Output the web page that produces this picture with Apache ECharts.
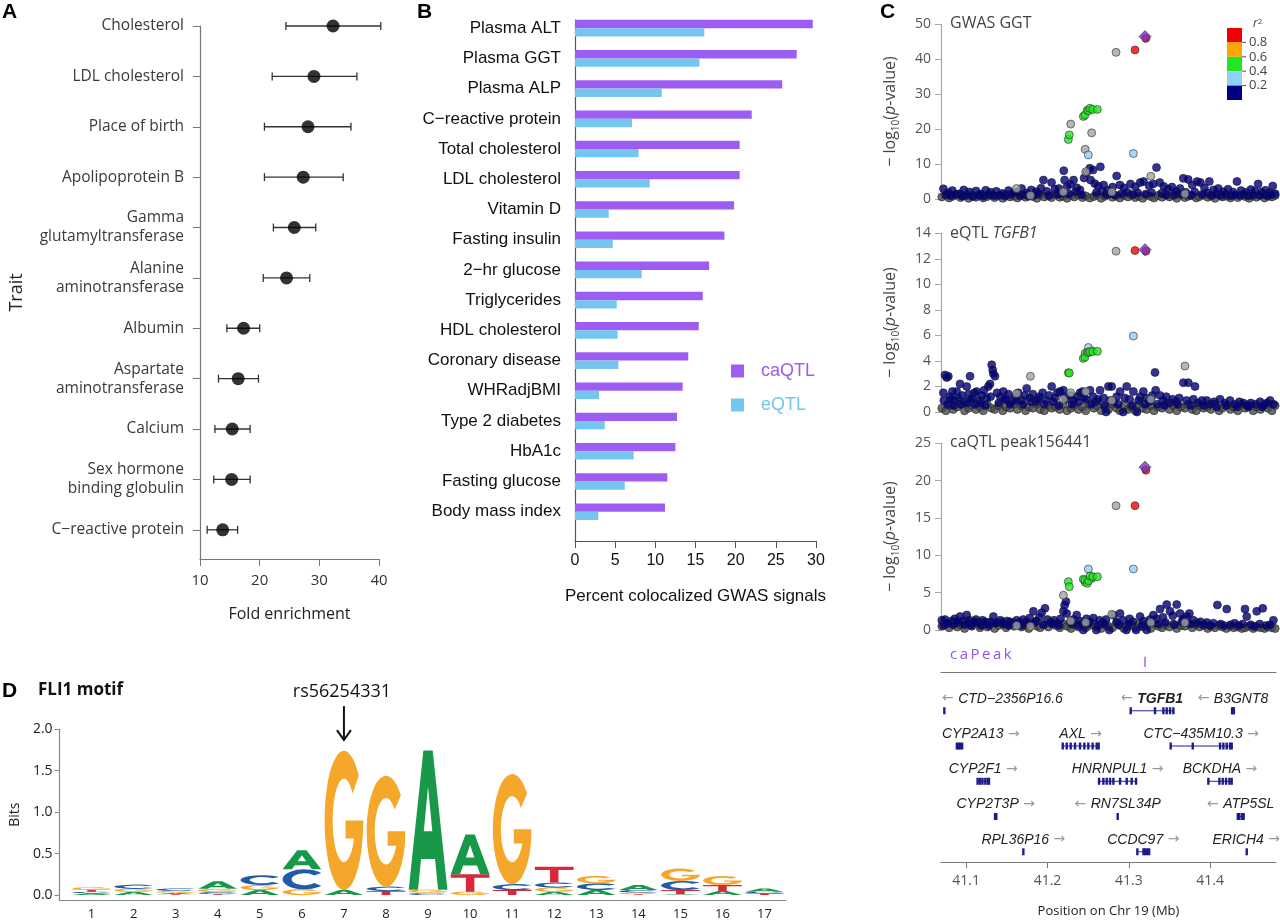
<!DOCTYPE html>
<html>
<head>
<meta charset="utf-8">
<title>Figure</title>
<script src="https://cdn.jsdelivr.net/npm/echarts@6.0.0/dist/echarts.min.js"></script>
<style>
html, body { margin: 0; padding: 0; background: #fff; }
#fig { width: 1280px; height: 922px; }
</style>
</head>
<body>
<div id="fig"></div>
<script>
// ---------- panel A : fold enrichment per trait
var traitNames = ['Cholesterol', 'LDL cholesterol', 'Place of birth', 'Apolipoprotein B',
    'Gamma\nglutamyltransferase', 'Alanine\naminotransferase', 'Albumin',
    'Aspartate\naminotransferase', 'Calcium', 'Sex hormone\nbinding globulin', 'C\u2212reactive protein'];
var foldMean = [32.3, 29.1, 28.1, 27.3, 25.8, 24.5, 17.3, 16.4, 15.4, 15.3, 13.8];
var foldLow = [24.4, 22.1, 20.8, 20.8, 22.3, 20.6, 14.5, 13.1, 12.5, 12.3, 11.2];
var foldHigh = [40.3, 36.3, 35.3, 34.0, 29.4, 28.4, 20.0, 19.8, 18.4, 18.4, 16.3];

// ---------- panel B : percent colocalized GWAS signals
var gwasTraits = ['Plasma ALT', 'Plasma GGT', 'Plasma ALP', 'C\u2212reactive protein', 'Total cholesterol',
    'LDL cholesterol', 'Vitamin D', 'Fasting insulin', '2\u2212hr glucose', 'Triglycerides', 'HDL cholesterol',
    'Coronary disease', 'WHRadjBMI', 'Type 2 diabetes', 'HbA1c', 'Fasting glucose', 'Body mass index'];
var caqtlPct = [29.6, 27.6, 25.8, 22.0, 20.5, 20.5, 19.8, 18.6, 16.7, 15.9, 15.4, 14.1, 13.4, 12.7, 12.5, 11.5, 11.2];
var eqtlPct = [16.1, 15.5, 10.8, 7.1, 7.9, 9.3, 4.2, 4.7, 8.3, 5.2, 5.3, 5.4, 3.0, 3.7, 7.3, 6.2, 2.9];

// ---------- panel C : locus plots (position in Mb, -log10 p)
var posTicks = [41.1, 41.2, 41.3, 41.4];
var bandPos = [41.070, 41.075, 41.079, 41.084, 41.089, 41.093, 41.098, 41.103, 41.107, 41.112,
    41.117, 41.121, 41.126, 41.131, 41.135, 41.140, 41.145, 41.149, 41.154, 41.159,
    41.163, 41.168, 41.173, 41.177, 41.182, 41.187, 41.191, 41.196, 41.201, 41.205,
    41.210, 41.215, 41.219, 41.224, 41.229, 41.233, 41.238, 41.243, 41.247, 41.252,
    41.257, 41.261, 41.266, 41.271, 41.275, 41.280, 41.285, 41.289, 41.294, 41.299,
    41.303, 41.308, 41.313, 41.317, 41.322, 41.327, 41.331, 41.336, 41.341, 41.345,
    41.350, 41.355, 41.359, 41.364, 41.369, 41.373, 41.378, 41.383, 41.387, 41.392,
    41.397, 41.401, 41.406, 41.411, 41.415, 41.420, 41.425, 41.429, 41.434, 41.439,
    41.443, 41.448, 41.453, 41.457, 41.462, 41.467, 41.471, 41.476, 41.480];
var gwasBand = [0.6, 1.1, 0.3, 0.8, 1.3, 0.4, 0.9, 0.2, 1.0, 0.5,
    1.2, 0.3, 0.7, 1.1, 0.4, 0.9, 0.2, 1.3, 0.6, 0.8,
    0.3, 1.0, 0.5, 1.2, 0.7, 0.2, 1.1, 0.6, 0.9, 0.4,
    1.3, 0.5, 0.8, 0.2, 1.0, 0.6, 1.2, 0.4, 0.9, 0.3,
    0.7, 1.1, 0.2, 0.8, 1.3, 0.5, 0.9, 0.3, 1.0, 0.6,
    1.2, 0.4, 0.8, 0.2, 1.1, 0.7, 0.3, 1.0, 0.5, 1.3,
    0.6, 0.9, 0.2, 1.2, 0.4, 0.8, 1.0, 0.3, 0.7, 1.1,
    0.5, 0.9, 0.2, 1.2, 0.6, 0.8, 0.3, 1.0, 0.4, 1.1,
    0.7, 0.2, 0.9, 0.5, 1.2, 0.3, 0.8, 0.6, 1.0];
var eqtlBand = [0.3, 0.1, 0.5, 0.2, 0.4, 0.6, 0.1, 0.3, 0.5, 0.2,
    0.4, 0.1, 0.6, 0.3, 0.2, 0.5, 0.1, 0.4, 0.3, 0.6,
    0.2, 0.5, 0.1, 0.4, 0.3, 0.6, 0.2, 0.1, 0.5, 0.3,
    0.4, 0.2, 0.6, 0.1, 0.3, 0.5, 0.2, 0.4, 0.1, 0.6,
    0.3, 0.5, 0.1, 0.4, 0.2, 0.6, 0.3, 0.1, 0.5, 0.2,
    0.4, 0.1, 0.6, 0.3, 0.2, 0.5, 0.1, 0.4, 0.3, 0.6,
    0.2, 0.5, 0.1, 0.4, 0.3, 0.6, 0.2, 0.1, 0.5, 0.3,
    0.4, 0.2, 0.6, 0.1, 0.3, 0.5, 0.2, 0.4, 0.1, 0.6,
    0.3, 0.5, 0.1, 0.4, 0.2, 0.6, 0.3, 0.1, 0.5];
var caqtlBand = [0.5, 0.8, 0.3, 0.9, 0.4, 0.7, 0.2, 0.8, 0.5, 1.0,
    0.3, 0.7, 0.4, 0.9, 0.2, 0.6, 0.8, 0.3, 0.7, 0.5,
    0.9, 0.4, 0.6, 0.2, 0.8, 0.5, 0.3, 0.7, 0.4, 0.9,
    0.6, 0.3, 0.8, 0.5, 0.2, 0.7, 0.4, 0.9, 0.3, 0.6,
    0.8, 0.4, 0.2, 0.7, 0.5, 0.3, 0.9, 0.6, 0.2, 0.5,
    0.7, 0.3, 0.8, 0.4, 0.6, 0.2, 0.9, 0.5, 0.3, 0.7,
    0.4, 0.8, 0.2, 0.6, 0.5, 0.9, 0.3, 0.7, 0.4, 0.6,
    0.2, 0.5, 0.3, 0.6, 0.4, 0.2, 0.5, 0.3, 0.4, 0.2,
    0.3, 0.5, 0.2, 0.4, 0.3, 0.2, 0.4, 0.3, 0.2];
var gwasNavy = [[41.072, 2.9], [41.075, 1.2], [41.078, 1.8], [41.081, 0.9], [41.083, 2.4], [41.087, 1.3], [41.092, 1.5],
    [41.095, 0.8], [41.097, 2.6], [41.101, 1.1], [41.104, 2.0], [41.108, 0.7], [41.112, 2.3], [41.115, 1.0], [41.118, 1.4],
    [41.121, 0.8], [41.124, 2.5], [41.127, 1.2], [41.130, 1.9], [41.134, 0.9], [41.137, 2.2], [41.141, 1.1], [41.144, 1.6],
    [41.148, 0.8], [41.152, 2.4], [41.155, 1.3], [41.158, 1.8], [41.163, 2.0], [41.166, 0.9], [41.168, 3.0], [41.171, 1.2],
    [41.174, 1.7], [41.177, 0.8], [41.180, 2.6], [41.183, 1.1], [41.186, 2.1], [41.189, 1.5], [41.192, 3.1], [41.195, 5.4],
    [41.199, 2.2], [41.202, 1.0], [41.205, 4.7], [41.209, 2.8], [41.212, 1.3], [41.214, 3.0], [41.218, 1.6], [41.220, 8.1],
    [41.221, 5.4], [41.224, 3.6], [41.226, 1.4], [41.228, 4.2], [41.232, 5.4], [41.234, 2.0], [41.236, 3.2], [41.240, 2.6],
    [41.242, 1.2], [41.245, 6.0], [41.248, 7.5], [41.252, 8.8], [41.253, 5.4], [41.256, 8.3], [41.258, 4.4], [41.260, 1.8],
    [41.262, 3.7], [41.265, 9.2], [41.267, 2.2], [41.269, 4.0], [41.272, 1.3], [41.274, 2.5], [41.277, 1.6], [41.280, 3.4],
    [41.283, 1.1], [41.285, 6.6], [41.289, 4.0], [41.291, 1.5], [41.294, 3.2], [41.298, 1.9], [41.302, 4.3], [41.305, 1.2],
    [41.308, 3.5], [41.311, 1.7], [41.314, 4.7], [41.318, 5.0], [41.321, 1.4], [41.325, 3.8], [41.328, 1.8], [41.330, 4.3],
    [41.334, 9.0], [41.338, 4.7], [41.340, 1.6], [41.343, 3.6], [41.346, 1.1], [41.348, 2.8], [41.353, 3.4], [41.356, 1.2],
    [41.358, 2.2], [41.363, 3.0], [41.365, 1.4], [41.367, 5.9], [41.370, 1.9], [41.373, 5.6], [41.376, 1.1], [41.378, 4.0],
    [41.381, 2.0], [41.384, 5.0], [41.388, 4.7], [41.390, 1.3], [41.393, 3.2], [41.396, 1.7], [41.399, 5.0], [41.402, 1.0],
    [41.404, 2.6], [41.407, 1.4], [41.410, 3.0], [41.413, 1.0], [41.416, 2.1], [41.419, 1.3], [41.422, 2.8], [41.425, 0.9],
    [41.428, 2.0], [41.430, 1.2], [41.433, 5.0], [41.436, 1.0], [41.438, 2.4], [41.441, 1.3], [41.444, 1.9], [41.447, 0.9],
    [41.450, 2.7], [41.453, 1.2], [41.455, 2.2], [41.459, 4.3], [41.461, 1.0], [41.463, 2.0], [41.466, 1.3], [41.468, 2.5],
    [41.471, 0.9], [41.473, 1.8], [41.475, 1.2], [41.477, 3.7], [41.480, 1.5]];
var eqtlNavy = [[41.0719, 1.5], [41.0739, 2.9], [41.0760, 2.7], [41.0780, 2.8], [41.0800, 1.2], [41.0830, 1.6], [41.0860, 0.9],
    [41.0883, 1.6], [41.0924, 2.2], [41.0950, 1.3], [41.0980, 0.8], [41.1006, 2.0], [41.1030, 1.4], [41.1047, 2.8],
    [41.1080, 1.1], [41.1100, 1.5], [41.1129, 1.6], [41.1160, 0.9], [41.1190, 1.3], [41.1220, 1.7], [41.1250, 1.1],
    [41.1272, 2.0], [41.1293, 2.2], [41.1313, 3.7], [41.1326, 3.3], [41.1334, 3.0], [41.1354, 2.8], [41.1380, 1.5],
    [41.1420, 1.2], [41.1457, 1.6], [41.1490, 1.0], [41.1520, 1.4], [41.1560, 0.8], [41.1600, 1.2], [41.1640, 1.5],
    [41.1680, 0.9], [41.1720, 1.3], [41.1744, 1.85], [41.1780, 1.1], [41.1820, 1.4], [41.1860, 0.8], [41.1900, 1.2],
    [41.1940, 1.5], [41.1980, 0.9], [41.2020, 1.3], [41.2051, 2.0], [41.2090, 1.1], [41.2120, 1.5], [41.2154, 1.6],
    [41.2195, 1.7], [41.2230, 1.0], [41.2280, 1.3], [41.2320, 0.9], [41.2360, 1.2], [41.2400, 1.5], [41.2432, 1.6],
    [41.2470, 1.0], [41.2523, 1.7], [41.2560, 1.2], [41.2600, 0.8], [41.2646, 1.7], [41.2690, 1.1], [41.2720, 0.0],
    [41.2748, 2.0], [41.2789, 2.0], [41.2810, 0.8], [41.2850, 1.2], [41.2892, 1.6], [41.2930, 0.0], [41.2974, 2.0],
    [41.3010, 1.0], [41.3056, 1.6], [41.3100, 0.0], [41.3140, 1.2], [41.3179, 1.6], [41.3210, 1.1], [41.3250, 0.8],
    [41.3290, 1.3], [41.3322, 3.1], [41.3330, 1.7], [41.3384, 1.3], [41.3420, 0.9], [41.3460, 1.2], [41.3500, 0.7],
    [41.3540, 1.0], [41.3580, 0.8], [41.3620, 1.1], [41.3671, 2.3], [41.3710, 0.9], [41.3732, 2.3], [41.3794, 1.0],
    [41.3814, 2.0], [41.3850, 0.7], [41.3900, 0.9], [41.3958, 0.9], [41.4000, 0.6], [41.4050, 0.8], [41.4122, 1.0],
    [41.4180, 0.7], [41.4245, 0.9], [41.4300, 0.6], [41.4360, 0.8], [41.4409, 0.7], [41.4450, 0.5], [41.4500, 0.7],
    [41.4560, 0.6], [41.4614, 0.8], [41.4660, 0.5], [41.4700, 0.7], [41.4737, 0.9], [41.4780, 0.6],
    [41.0725, 0.9], [41.0770, 0.6], [41.0815, 1.0], [41.0845, 0.5], [41.0900, 1.1], [41.0940, 0.6], [41.1015, 0.7],
    [41.1060, 1.0], [41.1110, 0.6], [41.1175, 0.7], [41.1235, 0.5], [41.1300, 1.2], [41.1400, 0.7], [41.1470, 1.0],
    [41.1540, 0.6], [41.1620, 0.9], [41.1700, 0.6], [41.1800, 0.8], [41.1880, 1.0], [41.1960, 0.6], [41.2070, 0.8],
    [41.2140, 0.5], [41.2210, 1.2], [41.2300, 0.6], [41.2380, 0.8], [41.2450, 1.1], [41.2540, 0.6], [41.2620, 1.0],
    [41.2700, 0.5], [41.2770, 0.9], [41.2870, 0.6], [41.2950, 1.1], [41.3040, 0.5], [41.3120, 0.9], [41.3200, 0.6],
    [41.3270, 1.0], [41.3350, 0.6], [41.3440, 0.5], [41.3600, 0.6], [41.3760, 0.5], [41.3920, 0.5], [41.4080, 0.4],
    [41.4200, 0.5], [41.4330, 0.4], [41.4470, 0.4], [41.4640, 0.4]];
var caqtlNavy = [[41.0700, 1.3], [41.0739, 1.4], [41.0780, 0.9], [41.0820, 1.2], [41.0860, 1.5], [41.0900, 1.0],
    [41.0924, 1.8], [41.0960, 1.2], [41.1006, 2.0], [41.1040, 1.3], [41.1080, 0.9], [41.1120, 1.4], [41.1160, 1.0],
    [41.1200, 1.3], [41.1250, 0.8], [41.1300, 1.1], [41.1334, 1.8], [41.1380, 1.0], [41.1420, 1.3], [41.1460, 0.8],
    [41.1500, 1.2], [41.1539, 1.1], [41.1580, 0.9], [41.1620, 1.3], [41.1660, 1.0], [41.1700, 1.4], [41.1740, 1.1],
    [41.1780, 1.6], [41.1826, 2.5], [41.1860, 1.2], [41.1900, 1.7], [41.1928, 2.3], [41.1969, 2.9], [41.2000, 1.4],
    [41.2040, 1.0], [41.2080, 1.3], [41.2120, 0.9], [41.2160, 1.5], [41.2195, 2.5], [41.2210, 3.3], [41.2227, 3.8],
    [41.2236, 2.2], [41.2280, 1.1], [41.2320, 1.4], [41.2359, 2.0], [41.2400, 1.2], [41.2440, 0.0], [41.2480, 1.5],
    [41.2520, 1.1], [41.2564, 1.6], [41.2600, 0.0], [41.2640, 1.3], [41.2680, 1.0], [41.2720, 1.4], [41.2760, 0.0],
    [41.2810, 2.0], [41.2850, 1.1], [41.2892, 2.2], [41.2930, 1.3], [41.2970, 0.0], [41.3010, 1.5], [41.3050, 1.1],
    [41.3090, 0.0], [41.3138, 1.8], [41.3180, 1.2], [41.3220, 0.0], [41.3260, 1.4], [41.3302, 2.0], [41.3340, 1.5],
    [41.3384, 2.8], [41.3420, 1.7], [41.3466, 3.4], [41.3507, 2.5], [41.3540, 1.9], [41.3589, 3.4], [41.3630, 2.2],
    [41.3670, 1.5], [41.3710, 1.8], [41.3745, 2.2], [41.3794, 1.3], [41.3840, 0.9], [41.3880, 1.1], [41.3920, 0.7],
    [41.3960, 1.0], [41.4000, 0.6], [41.4040, 0.9], [41.4089, 3.35], [41.4130, 0.8], [41.4170, 0.6], [41.4204, 2.8],
    [41.4250, 0.7], [41.4300, 0.9], [41.4350, 0.6], [41.4400, 0.8], [41.4429, 2.8], [41.4450, 1.8], [41.4500, 0.7],
    [41.4540, 0.5], [41.4573, 2.5], [41.4610, 0.8], [41.4647, 2.9], [41.4690, 0.6], [41.4740, 0.7], [41.4778, 1.3],
    [41.0720, 0.6], [41.0760, 0.9], [41.0840, 0.7], [41.0880, 1.1], [41.0980, 0.7], [41.1020, 1.0], [41.1060, 0.6],
    [41.1100, 1.1], [41.1180, 0.6], [41.1230, 1.1], [41.1280, 0.6], [41.1360, 0.9], [41.1440, 1.0], [41.1520, 0.6],
    [41.1600, 0.9], [41.1680, 0.6], [41.1760, 0.8], [41.1840, 1.0], [41.1950, 0.7], [41.2060, 0.8], [41.2140, 0.6],
    [41.2300, 0.8], [41.2380, 0.6], [41.2500, 0.8], [41.2620, 0.6], [41.2700, 0.8], [41.2880, 0.7], [41.3000, 0.8],
    [41.3160, 0.6], [41.3240, 0.9], [41.3360, 0.8], [41.3450, 1.0], [41.3560, 0.7], [41.3650, 1.1], [41.3760, 0.8]];

// SNPs with LD info: k = no r2, b = 0.2-0.4, g = 0.4-0.6, r = >0.8, d = lead SNP
var ldPos = [41.2843, 41.2285, 41.2195, 41.2543, 41.2463, 41.3270, 41.3690, 41.1790, 41.1620, 41.2470, 41.2790,
    41.2502, 41.3056,
    41.2256, 41.2268, 41.2440, 41.2460, 41.2490, 41.2505, 41.2523, 41.2556, 41.2613,
    41.3076, 41.3210, 41.3199];
var ldClass = ['k', 'k', 'k', 'k', 'k', 'k', 'k', 'k', 'k', 'k', 'k',
    'b', 'b',
    'g', 'g', 'g', 'g', 'g', 'g', 'g', 'g', 'g',
    'r', 'r', 'd'];
var ldGwas = [41.9, 21.4, 2.0, 18.9, 14.2, 6.5, 1.5, 1.0, 3.0, 7.8, 2.0,
    12.6, 13.0,
    17.0, 18.3, 23.6, 24.0, 25.4, 25.2, 25.9, 25.6, 25.6,
    42.6, 45.9, 46.4];
var ldEqtl = [12.6, 1.5, 1.0, 4.8, 4.6, 1.0, 3.6, 2.8, 1.45, 1.6, 0.9,
    5.05, 5.95,
    3.08, 3.05, 4.2, 4.3, 4.7, 4.65, 4.73, 4.73, 4.75,
    12.65, 12.6, 12.72];
var ldCaqtl = [16.65, 1.2, 4.65, 6.9, 6.4, 1.0, 1.0, 0.5, 0.6, 1.0, 2.1,
    8.17, 8.17,
    6.47, 5.8, 6.79, 6.7, 6.25, 6.6, 7.23, 7.14, 7.14,
    16.65, 21.4, 21.8];
var r2Labels = ['0.8', '0.6', '0.4', '0.2'];
var peakPos = [41.3199];

var geneNames = ['CTD\u22122356P16.6', 'TGFB1', 'B3GNT8', 'CYP2A13', 'AXL', 'CTC\u2212435M10.3', 'CYP2F1', 'HNRNPUL1',
    'BCKDHA', 'CYP2T3P', 'RN7SL34P', 'ATP5SL', 'RPL36P16', 'CCDC97', 'ERICH4'];
var geneRow = [1, 1, 1, 2, 2, 2, 3, 3, 3, 4, 4, 4, 5, 5, 5];
var geneStrand = ['-', '-', '-', '+', '+', '+', '+', '+', '+', '+', '-', '-', '+', '+', '+'];
var geneExons = [
    [41.0731],
    [41.3023, 41.3322, 41.3425, 41.3466, 41.3507, 41.3548],
    [41.4270, 41.4280, 41.4292],
    [41.0885, 41.0905, 41.0925, 41.0950],
    [41.2187, 41.2236, 41.2285, 41.2338, 41.2400, 41.2453, 41.2502, 41.2555, 41.2605, 41.2629],
    [41.3515, 41.3786, 41.4122, 41.4163, 41.4204, 41.4245, 41.4265],
    [41.1140, 41.1170, 41.1200, 41.1235, 41.1265, 41.1280],
    [41.2634, 41.2687, 41.2728, 41.2769, 41.2810, 41.2892, 41.2974, 41.3035, 41.3089],
    [41.3978, 41.4114, 41.4155, 41.4196, 41.4237, 41.4265],
    [41.1355, 41.1370],
    [41.2863],
    [41.4340, 41.4360, 41.4395, 41.4412],
    [41.1703],
    [41.3105, 41.3180, 41.3200, 41.3225, 41.3250],
    [41.4450]
];

// ---------- panel D : FLI1 motif logo (letters bottom -> top, heights in bits)
var logoPositions = [1, 2, 3, 4, 5, 6, 7, 8, 9, 10, 11, 12, 13, 14, 15, 16, 17];
var logoLetters = ['ACTG', 'AGC', 'TAGC', 'TCGA', 'AGC', 'GCA', 'AG', 'TCG', 'CGA', 'GTA', 'TCG', 'AGCT', 'ACG',
    'TGCA', 'ATCG', 'ATG', 'TCA'];
var logoBits = [
    [0.02, 0.02, 0.025, 0.03], [0.04, 0.035, 0.05], [0.01, 0.015, 0.025, 0.03], [0.01, 0.025, 0.04, 0.09],
    [0.06, 0.06, 0.12], [0.07, 0.24, 0.23], [0.06, 1.68], [0.05, 0.05, 1.34], [0.025, 0.04, 1.68],
    [0.04, 0.21, 0.48], [0.06, 0.07, 1.33], [0.04, 0.05, 0.06, 0.19], [0.06, 0.08, 0.09],
    [0.01, 0.02, 0.03, 0.06], [0.01, 0.05, 0.11, 0.15], [0.05, 0.07, 0.11], [0.02, 0.02, 0.04]
];
var bitTicks = [0, 0.5, 1, 1.5, 2];
var snpPosition = 7;
var snpLabel = 'rs56254331';

// ---------------------------------------------------------------
var FA = 'Open Sans';
var FB = 'Liberation Sans';
var PURPLE = '#9d5cf2';
var SKY = '#74c6f1';
var ldColor = {k: '#a3a3a3', b: '#8fd0f7', g: '#22e622', r: '#f20000', d: '#7d2fc2'};
var letterColor = {A: '#18994a', C: '#1f5ba8', G: '#f5a72b', T: '#d8283a'};
var letterPath = {
    A: 'M0,100 L38,0 L62,0 L100,100 L76,100 L68,78 L32,78 L24,100 Z M39,58 L61,58 L50,26 Z',
    C: 'M88.8,17.9 A48,50 0 1 0 88.8,82.1 L73.4,69.3 A28,30 0 1 1 73.4,30.7 Z',
    G: 'M88.8,17.9 A48,50 0 1 0 100,50 L56,50 L56,63 L77.2,63 A28,30 0 1 1 73.4,30.7 Z',
    T: 'M0,0 L100,0 L100,20 L61,20 L61,100 L39,100 L39,20 L0,20 Z'
};
var LETTERS = 'ACGT';

var measureCtx = document.createElement('canvas').getContext('2d');
function textWidth(str, font) {
    measureCtx.font = font;
    return measureCtx.measureText(str).width;
}

var series = [];

// A: error bars + points
series.push({
    type: 'custom', xAxisIndex: 0, yAxisIndex: 0, silent: true,
    data: traitNames.map(function (n, i) { return [foldLow[i], foldHigh[i], i]; }),
    encode: {x: [0, 1], y: 2},
    renderItem: function (params, api) {
        var lo = api.coord([api.value(0), api.value(2)]);
        var hi = api.coord([api.value(1), api.value(2)]);
        var st = {stroke: '#333', lineWidth: 1.3};
        return {type: 'group', children: [
            {type: 'line', shape: {x1: lo[0], y1: lo[1], x2: hi[0], y2: hi[1]}, style: st},
            {type: 'line', shape: {x1: lo[0], y1: lo[1] - 4, x2: lo[0], y2: lo[1] + 4}, style: st},
            {type: 'line', shape: {x1: hi[0], y1: hi[1] - 4, x2: hi[0], y2: hi[1] + 4}, style: st}
        ]};
    }
});
series.push({
    type: 'scatter', xAxisIndex: 0, yAxisIndex: 0, silent: true, symbolSize: 13,
    itemStyle: {color: '#000'},
    data: foldMean.map(function (v, i) { return [v, i]; })
});

// B: paired horizontal bars
function barSeries(name, vals, color, side) {
    return {
        type: 'custom', name: name, xAxisIndex: 1, yAxisIndex: 1, silent: true,
        itemStyle: {color: color},
        data: vals.map(function (v, i) { return [v, i]; }),
        encode: {x: 0, y: 1},
        renderItem: function (params, api) {
            var p0 = api.coord([0, api.value(1)]);
            var p1 = api.coord([api.value(0), api.value(1)]);
            var bh = api.size([0, 1])[1] * 0.275;
            var y = side < 0 ? p0[1] - bh : p0[1];
            return {type: 'rect', shape: {x: p0[0], y: y, width: p1[0] - p0[0], height: bh}, style: {fill: color}};
        }
    };
}
series.push(barSeries('caQTL', caqtlPct, PURPLE, -1));
series.push(barSeries('eQTL', eqtlPct, SKY, 1));

// C: three locus panels
var panels = [
    {band: gwasBand, navy: gwasNavy, ld: ldGwas},
    {band: eqtlBand, navy: eqtlNavy, ld: ldEqtl},
    {band: caqtlBand, navy: caqtlNavy, ld: ldCaqtl}
];
panels.forEach(function (p, k) {
    var gi = k + 2;
    series.push({
        type: 'scatter', xAxisIndex: gi, yAxisIndex: gi, clip: false, silent: true, symbolSize: 8,
        itemStyle: {color: '#4a4a4a', borderColor: '#222', borderWidth: 0.8},
        data: bandPos.map(function (x, j) { return [x, p.band[j]]; })
    });
    series.push({
        type: 'scatter', xAxisIndex: gi, yAxisIndex: gi, clip: false, silent: true, symbolSize: 8,
        itemStyle: {color: '#00007d', borderColor: '#1a1a30', borderWidth: 0.8},
        data: p.navy
    });
    series.push({
        type: 'scatter', xAxisIndex: gi, yAxisIndex: gi, clip: false, silent: true,
        itemStyle: {borderColor: '#333', borderWidth: 0.8},
        data: ldPos.map(function (x, j) {
            var lead = ldClass[j] === 'd';
            return {value: [x, p.ld[j]], symbol: lead ? 'diamond' : 'circle', symbolSize: lead ? 12 : 8,
                itemStyle: {color: ldColor[ldClass[j]]}};
        })
    });
});

// C: gene track
series.push({
    type: 'custom', xAxisIndex: 5, yAxisIndex: 5, silent: true,
    data: geneNames.map(function (n, i) {
        var ex = geneExons[i];
        return [ex[0], ex[ex.length - 1], geneRow[i], i];
    }),
    encode: {x: [0, 1], y: 2},
    renderItem: function (params, api) {
        var i = api.value(3);
        var ex = geneExons[i];
        var a = api.coord([api.value(0), api.value(2)]);
        var b = api.coord([api.value(1), api.value(2)]);
        var left = api.coord([41.069, 0])[0];
        var y = a[1];
        var kids = [];
        if (b[0] - a[0] > 1) {
            kids.push({type: 'line', shape: {x1: a[0], y1: y, x2: b[0], y2: y}, style: {stroke: '#23238f', lineWidth: 1}});
        }
        ex.forEach(function (e) {
            var c = api.coord([e, api.value(2)]);
            kids.push({type: 'rect', shape: {x: c[0] - 1.2, y: y - 3.5, width: 2.4, height: 7}, style: {fill: '#1b1b8a'}});
        });
        var name = geneNames[i];
        var bold = name === 'TGFB1';
        var minus = geneStrand[i] === '-';
        var nameFont = (bold ? 'italic bold ' : 'italic ') + '14px "' + FB + '"';
        var w = textWidth(name, nameFont) + textWidth(' \u2192', '14px "DejaVu Sans"');
        var cx = (a[0] + b[0]) / 2;
        cx = Math.max(cx, left + w / 2 + 1);
        cx = Math.min(cx, 1280 - w / 2);
        var txt = minus ? '{a|\u2190 }{n|' + name + '}' : '{n|' + name + '}{a| \u2192}';
        kids.push({type: 'text', x: cx, y: y - 12, style: {
            text: txt, align: 'center', verticalAlign: 'middle',
            rich: {
                a: {fill: '#9a9a9a', fontSize: 14, fontFamily: 'DejaVu Sans'},
                n: {fill: '#222', fontSize: 14, fontFamily: FB, fontStyle: 'italic', fontWeight: bold ? 'bold' : 'normal'}
            }
        }});
        return {type: 'group', children: kids};
    }
});
series.push({
    type: 'custom', xAxisIndex: 5, yAxisIndex: 5, silent: true,
    data: peakPos.map(function (p) { return [p, 0]; }),
    encode: {x: 0, y: 1},
    renderItem: function (params, api) {
        var t = api.coord([api.value(0), -0.53]);
        var b = api.coord([api.value(0), -0.24]);
        return {type: 'line', shape: {x1: t[0], y1: t[1], x2: b[0], y2: b[1]}, style: {stroke: '#9b4fe6', lineWidth: 1.3}};
    }
});

// D: sequence logo
var logoData = [];
logoPositions.forEach(function (p, k) {
    var base = 0;
    logoBits[k].forEach(function (h, j) {
        logoData.push([p, base, base + h, LETTERS.indexOf(logoLetters[k][j])]);
        base += h;
    });
});
series.push({
    type: 'custom', xAxisIndex: 7, yAxisIndex: 6, silent: true,
    data: logoData,
    encode: {x: 0, y: [1, 2]},
    renderItem: function (params, api) {
        var x = api.value(0);
        var tl = api.coord([x - 0.46, api.value(2)]);
        var br = api.coord([x + 0.46, api.value(1)]);
        var L = LETTERS.charAt(api.value(3));
        return {type: 'path', shape: {pathData: letterPath[L], x: tl[0], y: tl[1], width: br[0] - tl[0],
            height: Math.max(br[1] - tl[1], 0.5), layout: 'cover'}, style: {fill: letterColor[L]}};
    }
});
series.push({
    type: 'custom', xAxisIndex: 7, yAxisIndex: 6, silent: true,
    data: [[snpPosition, 2.0]],
    encode: {x: 0, y: 1},
    renderItem: function (params, api) {
        var x = api.value(0);
        var t = api.coord([x, 2.28]);
        var b = api.coord([x, 1.87]);
        var lab = api.coord([x, 2.45]);
        return {type: 'group', children: [
            {type: 'line', shape: {x1: t[0], y1: t[1], x2: b[0], y2: b[1]}, style: {stroke: '#111', lineWidth: 2}},
            {type: 'polyline', shape: {points: [[b[0] - 7, b[1] - 10], [b[0], b[1]], [b[0] + 7, b[1] - 10]]},
                style: {stroke: '#111', lineWidth: 2, fill: null}},
            {type: 'text', x: lab[0] - 2, y: lab[1], style: {text: snpLabel, align: 'center', verticalAlign: 'middle',
                fontSize: 18, fontFamily: FA, fill: '#111'}}
        ]};
    }
});

// ---------------------------------------------------------------
function locusX(gi) {
    return {gridIndex: gi, type: 'value', min: 41.069, max: 41.481, show: false};
}
function locusY(gi, max, interval) {
    return {
        gridIndex: gi, type: 'value', min: 0, max: max, interval: interval,
        axisLine: {show: true, onZero: false, lineStyle: {color: '#a8a8a8', width: 1.2}},
        axisTick: {show: true, length: 6, lineStyle: {color: '#a8a8a8'}},
        axisLabel: {margin: 10, fontFamily: FA, fontSize: 14, color: '#555'},
        splitLine: {show: false},
        name: '\u2212 log{s|10}(' + '{i|p}-value)', nameLocation: 'middle', nameRotate: 90, nameGap: 40,
        nameTextStyle: {fontFamily: FA, fontSize: 16, color: '#444', lineHeight: 22,
            rich: {s: {fontSize: 10, fontFamily: FA, color: '#444', lineHeight: 12, verticalAlign: 'bottom'},
                i: {fontSize: 16, fontFamily: FA, color: '#444', fontStyle: 'italic', lineHeight: 22}}}
    };
}

var graphic = [
    {type: 'text', left: 2, top: 2, style: {text: 'A', font: 'bold 21px "' + FB + '"', fill: '#000'}},
    {type: 'text', left: 417, top: 2, style: {text: 'B', font: 'bold 21px "' + FB + '"', fill: '#000'}},
    {type: 'text', left: 880, top: 2, style: {text: 'C', font: 'bold 21px "' + FB + '"', fill: '#000'}},
    {type: 'text', left: 2, top: 681, style: {text: 'D', font: 'bold 21px "' + FB + '"', fill: '#000'}},
    {type: 'text', left: 950, top: 15, style: {text: 'GWAS GGT', font: '16px "' + FA + '"', fill: '#444'}},
    {type: 'text', left: 950, top: 225, style: {text: 'eQTL {i|TGFB1}', font: '16px "' + FA + '"', fill: '#444',
        rich: {i: {fontStyle: 'italic', fontSize: 16, fontFamily: FA, fill: '#444'}}}},
    {type: 'text', left: 950, top: 434, style: {text: 'caQTL peak156441', font: '16px "' + FA + '"', fill: '#444'}},
    {type: 'text', left: 950, top: 647, style: {text: 'c\u2009a\u2009P\u2009e\u2009a\u2009k', font: '15px "' + FA + '"', fill: '#9b4fe6'}},
    {type: 'text', left: 38, top: 682, style: {text: 'FLI1 motif', font: 'bold 17px "' + FA + '"', fill: '#111'}}
];
// r2 colour key
var keyColors = [ldColor.r, '#ffa500', ldColor.g, ldColor.b, '#000080'];
keyColors.forEach(function (c, i) {
    graphic.push({type: 'rect', shape: {x: 1227, y: 28 + i * 14.4, width: 15, height: 14.4}, style: {fill: c}});
});
r2Labels.forEach(function (t, i) {
    var y = 28 + (i + 1) * 14.4;
    graphic.push({type: 'line', shape: {x1: 1242, y1: y, x2: 1246, y2: y}, style: {stroke: '#555', lineWidth: 1}});
    graphic.push({type: 'text', x: 1249, y: y, style: {text: t, font: '13px "' + FA + '"', fill: '#444', verticalAlign: 'middle'}});
});
graphic.push({type: 'text', x: 1253, y: 24, style: {text: '{i|r}{s|2}', verticalAlign: 'middle',
    rich: {i: {fontStyle: 'italic', fontSize: 12, fontFamily: FA, fill: '#444'},
        s: {fontSize: 8, fontFamily: FA, fill: '#444', verticalAlign: 'top', lineHeight: 8}}}});

var option = {
    animation: false,
    backgroundColor: '#fff',
    grid: [
        {left: 200, top: 26, width: 179, height: 533},
        {left: 575, top: 20, width: 241, height: 521},
        {left: 941, top: 24, width: 335, height: 175},
        {left: 941, top: 233.3, width: 335, height: 178.7},
        {left: 941, top: 443.3, width: 335, height: 186.7},
        {left: 941, top: 672, width: 335, height: 190},
        {left: 53, top: 729.3, width: 733, height: 170.7}
    ],
    legend: {
        data: [{name: 'caQTL', textStyle: {color: PURPLE}}, {name: 'eQTL', textStyle: {color: SKY}}],
        orient: 'vertical', left: 731, top: 362, padding: 0, icon: 'rect',
        itemWidth: 13, itemHeight: 13, itemGap: 16, selectedMode: false,
        textStyle: {fontFamily: FB, fontSize: 18, padding: [0, 0, 0, 12]}
    },
    xAxis: [
        {gridIndex: 0, type: 'value', min: 10, max: 40, interval: 10,
            axisLine: {show: true, onZero: false, lineStyle: {color: '#777', width: 1.2}},
            axisTick: {show: true, length: 7, lineStyle: {color: '#777'}},
            axisLabel: {margin: 14, fontFamily: FA, fontSize: 15, color: '#333'},
            splitLine: {show: false},
            name: 'Fold enrichment', nameLocation: 'middle', nameGap: 47,
            nameTextStyle: {fontFamily: FA, fontSize: 16, color: '#222'}},
        {gridIndex: 1, type: 'value', min: 0, max: 30, interval: 5,
            axisLine: {show: true, onZero: false, lineStyle: {color: '#555', width: 1.2}},
            axisTick: {show: true, length: 7, lineStyle: {color: '#555'}},
            axisLabel: {margin: 12, fontFamily: FB, fontSize: 16, color: '#111'},
            splitLine: {show: false},
            name: 'Percent colocalized GWAS signals', nameLocation: 'middle', nameGap: 47,
            nameTextStyle: {fontFamily: FB, fontSize: 17, color: '#111'}},
        locusX(2), locusX(3), locusX(4),
        {gridIndex: 5, type: 'value', min: 41.069, max: 41.481,
            axisLine: {show: true, onZero: false, lineStyle: {color: '#777', width: 1.2}},
            axisTick: {show: true, customValues: posTicks, length: 6, lineStyle: {color: '#777'}},
            axisLabel: {customValues: posTicks, formatter: function (v) { return v.toFixed(1); },
                margin: 12, fontFamily: FA, fontSize: 14, color: '#555'},
            splitLine: {show: false},
            name: 'Position on Chr 19 (Mb)', nameLocation: 'middle', nameGap: 43,
            nameTextStyle: {fontFamily: FA, fontSize: 13, color: '#222'}},
        {gridIndex: 5, type: 'value', position: 'top', min: 41.069, max: 41.481,
            axisLine: {show: true, onZero: false, lineStyle: {color: '#777', width: 1.2}},
            axisTick: {show: false}, axisLabel: {show: false}, splitLine: {show: false}},
        {gridIndex: 6, type: 'value', min: 0.24, max: 17.51,
            axisLine: {show: true, onZero: false, lineStyle: {color: '#888', width: 1.2}},
            axisTick: {show: false},
            axisLabel: {customValues: logoPositions, margin: 8, fontFamily: FA, fontSize: 13, color: '#222'},
            splitLine: {show: false}}
    ],
    yAxis: [
        {gridIndex: 0, type: 'value', inverse: true, min: 0, max: 10.58,
            axisLine: {show: true, onZero: false, lineStyle: {color: '#777', width: 1.2}},
            axisTick: {show: true, customValues: traitNames.map(function (n, i) { return i; }), length: 7,
                lineStyle: {color: '#777'}},
            axisLabel: {customValues: traitNames.map(function (n, i) { return i; }),
                formatter: function (v) { return traitNames[v]; },
                margin: 16, fontFamily: FA, fontSize: 15.5, color: '#3a3a3a', lineHeight: 19, align: 'right'},
            splitLine: {show: false},
            name: 'Trait', nameLocation: 'middle', nameRotate: 90, nameGap: 174,
            nameTextStyle: {fontFamily: FA, fontSize: 18, color: '#222'}},
        {gridIndex: 1, type: 'value', inverse: true, min: -0.27, max: 16.97,
            axisLine: {show: true, onZero: false, lineStyle: {color: '#555', width: 1.2}},
            axisTick: {show: false},
            axisLabel: {customValues: gwasTraits.map(function (n, i) { return i; }),
                formatter: function (v) { return gwasTraits[v]; },
                margin: 14, fontFamily: FB, fontSize: 17, color: '#111'},
            splitLine: {show: false}},
        locusY(2, 50, 10), locusY(3, 14, 2), locusY(4, 25, 5),
        {gridIndex: 5, type: 'value', inverse: true, min: -0.1, max: 5.29, show: false},
        {gridIndex: 6, type: 'value', min: -0.06, max: 2.0,
            axisLine: {show: true, onZero: false, lineStyle: {color: '#888', width: 1.2}},
            axisTick: {show: true, customValues: bitTicks, length: 5, lineStyle: {color: '#888'}},
            axisLabel: {customValues: bitTicks, formatter: function (v) { return v.toFixed(1); },
                margin: 7, fontFamily: FA, fontSize: 14, color: '#222'},
            splitLine: {show: false},
            name: 'Bits', nameLocation: 'middle', nameRotate: 90, nameGap: 34,
            nameTextStyle: {fontFamily: FA, fontSize: 14, color: '#222'}}
    ],
    graphic: graphic,
    series: series
};

var chart = echarts.init(document.getElementById('fig'));
chart.setOption(option);
</script>
</body>
</html>
